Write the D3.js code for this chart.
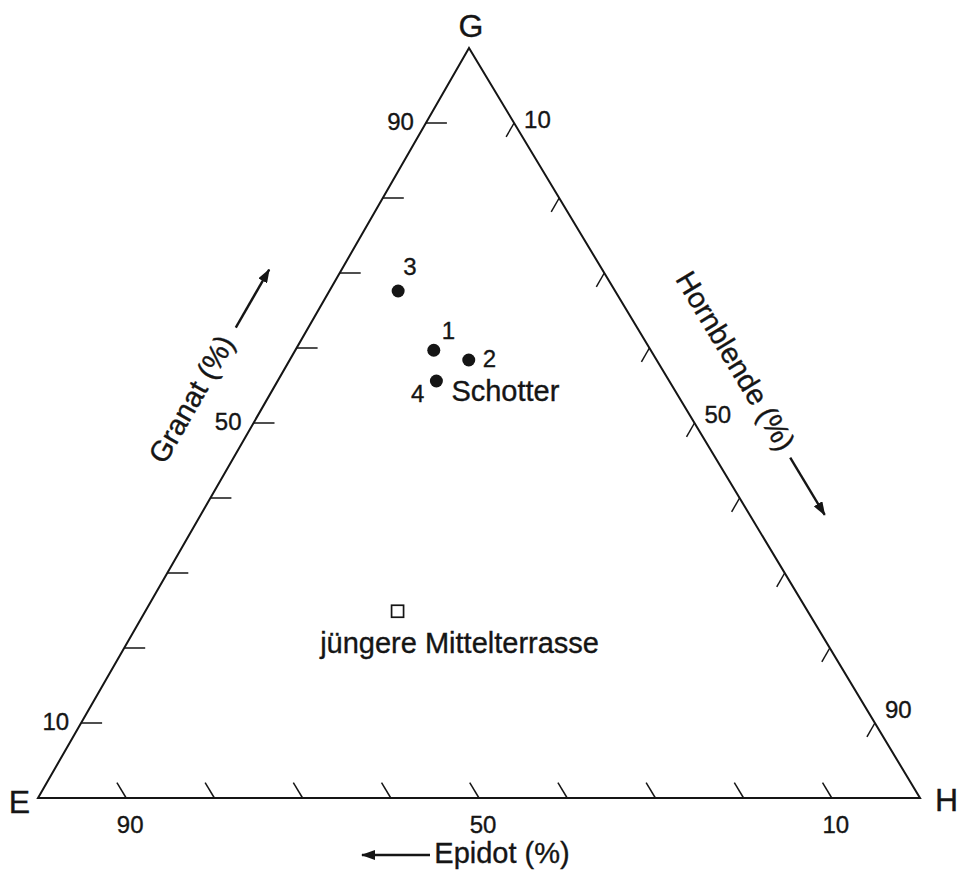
<!DOCTYPE html>
<html>
<head>
<meta charset="utf-8">
<script src="https://cdn.jsdelivr.net/npm/d3@7"></script>
<style>
  html, body { margin: 0; padding: 0; background: #fff; }
  svg text { font-family: "Liberation Sans", Arial, Helvetica, sans-serif; fill: #151515; stroke: #151515; stroke-width: 0.35px; }
</style>
</head>
<body>
<svg id="chart" width="960" height="870"></svg>
<script>
// ---------- data ----------
const vertexLabels = ["G", "E", "H"];
const axisTitles = ["Granat (%)", "Hornblende (%)", "Epidot (%)"];
const tickValues = [10, 20, 30, 40, 50, 60, 70, 80, 90];
const tickLabelValues = [10, 50, 90];

// Schotter samples: ids, Granat, Hornblende, Epidot (%)
const sampleIds = ["1", "2", "3", "4"];
const sampleGranat = [59.7, 58.4, 67.6, 55.6];
const sampleHornblende = [15.7, 20.3, 7.8, 18.0];
const sampleEpidot = [24.6, 21.3, 24.6, 26.4];
const groupLabel1 = "Schotter";

// jüngere Mittelterrasse
const terraceGranat = [24.9];
const terraceHornblende = [28.6];
const terraceEpidot = [46.5];
const groupLabel2 = "jüngere Mittelterrasse";

// ---------- geometry ----------
const svg = d3.select("#chart");
const ex = 38, baseY = 798, hx = 920, gx = 469, topY = 48;

const yG = d3.scaleLinear().domain([0, 100]).range([baseY, topY]);
const xG = d3.scaleLinear().domain([0, 100]).range([0, gx - ex]);
const xH = d3.scaleLinear().domain([0, 100]).range([0, hx - ex]);

// pt(Granat, Hornblende, Epidot)
function pt(g, h, e) {
  const s = g + h + e;
  const G = g / s * 100, H = h / s * 100;
  return [ex + xH(H) + xG(G), yG(G)];
}

const black = "#151515";

const vG = pt(100, 0, 0), vE = pt(0, 0, 100), vH = pt(0, 100, 0);
svg.append("path")
  .attr("d", "M" + [vG, vE, vH].map(p => p.join(",")).join("L") + "Z")
  .attr("fill", "none").attr("stroke", black).attr("stroke-width", 2)
  .attr("stroke-linejoin", "miter");

const unit = (a, b) => { const dx = b[0] - a[0], dy = b[1] - a[1], l = Math.hypot(dx, dy); return [dx / l, dy / l]; };
const dirGE = unit(vG, vE);
const dirHG = unit(vH, vG);

const ticks = svg.append("g").attr("stroke", black).attr("stroke-width", 1.5);

// left side: Granat ticks (horizontal, inward)
tickValues.forEach(v => {
  const p = pt(v, 0, 100 - v);
  ticks.append("line").attr("x1", p[0]).attr("y1", p[1]).attr("x2", p[0] + 21).attr("y2", p[1]);
});
// right side: Hornblende ticks (parallel to GE, inward)
tickValues.forEach(v => {
  const p = pt(100 - v, v, 0);
  ticks.append("line").attr("x1", p[0]).attr("y1", p[1])
    .attr("x2", p[0] + dirGE[0] * 16).attr("y2", p[1] + dirGE[1] * 16);
});
// bottom: Epidot ticks (parallel to HG, inward)
tickValues.forEach(v => {
  const p = pt(0, 100 - v, v);
  ticks.append("line").attr("x1", p[0]).attr("y1", p[1])
    .attr("x2", p[0] + dirHG[0] * 18).attr("y2", p[1] + dirHG[1] * 18);
});

// tick labels
const lab = svg.append("g").style("font-size", "24px");
tickLabelValues.forEach(v => {
  const p = pt(v, 0, 100 - v);
  lab.append("text").attr("x", p[0] - 12).attr("y", p[1] + 7).attr("text-anchor", "end").text(v);
});
tickLabelValues.forEach(v => {
  const p = pt(100 - v, v, 0);
  lab.append("text").attr("x", p[0] + 10).attr("y", p[1] + 6 - v * 0.12).attr("text-anchor", "start").text(v);
});
tickLabelValues.forEach(v => {
  const p = pt(0, 100 - v, v);
  lab.append("text").attr("x", p[0] + 4).attr("y", p[1] + 35).attr("text-anchor", "middle").text(v);
});

// vertex labels
const vl = svg.append("g").style("font-size", "32px");
vl.append("text").attr("x", vG[0] + 2).attr("y", vG[1] - 11).attr("text-anchor", "middle").text(vertexLabels[0]);
vl.append("text").attr("x", vE[0] - 8).attr("y", vE[1] + 15).attr("text-anchor", "end").text(vertexLabels[1]);
vl.append("text").attr("x", vH[0] + 15).attr("y", vH[1] + 13).attr("text-anchor", "start").text(vertexLabels[2]);

// arrow marker
const defs = svg.append("defs");
defs.append("marker").attr("id", "ah").attr("viewBox", "0 0 14 10")
  .attr("refX", 13).attr("refY", 5).attr("markerWidth", 14).attr("markerHeight", 10)
  .attr("markerUnits", "userSpaceOnUse").attr("orient", "auto")
  .append("path").attr("d", "M0,0L14,5L0,10Z").attr("fill", black);

// axis titles
const angL = Math.atan2(vG[1] - vE[1], vG[0] - vE[0]) * 180 / Math.PI;   // ~ -60
const angR = Math.atan2(vH[1] - vG[1], vH[0] - vG[0]) * 180 / Math.PI;   // ~ 59

const gL = svg.append("g").attr("transform", `translate(200,404) rotate(${angL})`);
gL.append("text").attr("x", 0).attr("y", 0).attr("text-anchor", "middle").style("font-size", "29px").text(axisTitles[0]);
gL.append("line").attr("x1", 84).attr("y1", -7).attr("x2", 151).attr("y2", -7)
  .attr("stroke", black).attr("stroke-width", 2.4).attr("marker-end", "url(#ah)");

const gR = svg.append("g").attr("transform", `translate(727,366) rotate(${angR})`);
gR.append("text").attr("x", 0).attr("y", 0).attr("text-anchor", "middle").style("font-size", "29px").text(axisTitles[1]);
gR.append("line").attr("x1", 111).attr("y1", -7).attr("x2", 178).attr("y2", -7)
  .attr("stroke", black).attr("stroke-width", 2.4).attr("marker-end", "url(#ah)");

const midB = pt(0, 50, 50);
svg.append("text").attr("x", midB[0] + 23).attr("y", 863).attr("text-anchor", "middle")
  .style("font-size", "29px").text(axisTitles[2]);
svg.append("line").attr("x1", midB[0] - 49).attr("y1", 855).attr("x2", midB[0] - 117).attr("y2", 855)
  .attr("stroke", black).attr("stroke-width", 2.4).attr("marker-end", "url(#ah)");

// samples
const labelOffsets = { "1": [8, -11, "start"], "2": [14, 7, "start"], "3": [5, -16, "start"], "4": [-12, 21, "end"] };
const samples = sampleIds.map((id, i) => ({ id, p: pt(sampleGranat[i], sampleHornblende[i], sampleEpidot[i]) }));
svg.append("g").selectAll("circle").data(samples).join("circle")
  .attr("cx", d => d.p[0]).attr("cy", d => d.p[1]).attr("r", 6.5).attr("fill", black);
svg.append("g").style("font-size", "24px").selectAll("text").data(samples).join("text")
  .attr("x", d => d.p[0] + labelOffsets[d.id][0]).attr("y", d => d.p[1] + labelOffsets[d.id][1])
  .attr("text-anchor", d => labelOffsets[d.id][2]).text(d => d.id);

const p4 = samples[3].p;
svg.append("text").attr("x", p4[0] + 15).attr("y", p4[1] + 20).style("font-size", "29px").text(groupLabel1);

// terrace
const terr = terraceGranat.map((g, i) => pt(g, terraceHornblende[i], terraceEpidot[i]));
svg.append("g").selectAll("rect").data(terr).join("rect")
  .attr("x", d => d[0] - 6).attr("y", d => d[1] - 6).attr("width", 12).attr("height", 12)
  .attr("fill", "#fff").attr("stroke", black).attr("stroke-width", 1.7);
svg.append("text").attr("x", terr[0][0] + 62).attr("y", terr[0][1] + 42).attr("text-anchor", "middle")
  .style("font-size", "29px").text(groupLabel2);
</script>
</body>
</html>
